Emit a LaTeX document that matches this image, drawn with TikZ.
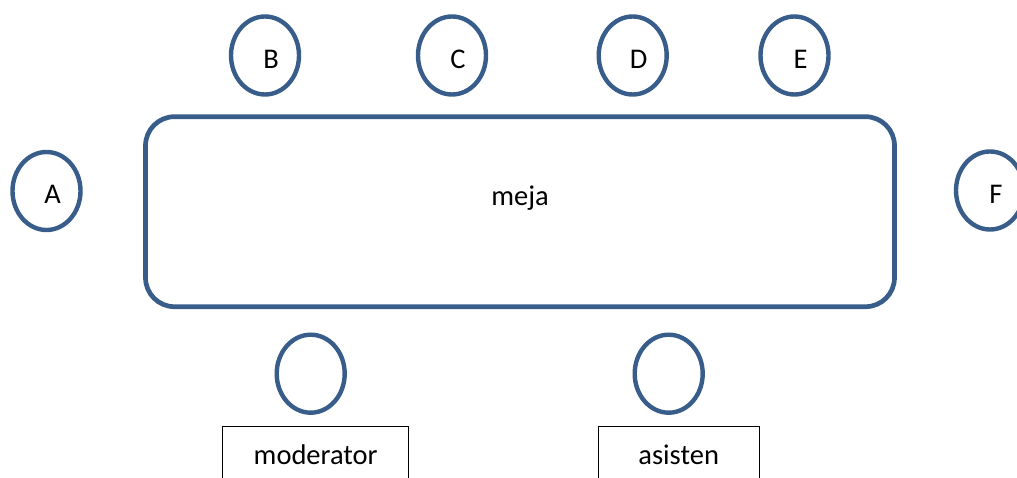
\documentclass[tikz,border=0pt]{standalone}
\usepackage{fontspec}
\setmainfont{Carlito}
\usepackage{tikz}
\usetikzlibrary{shapes.geometric}
\definecolor{seatblue}{RGB}{56,93,138}

\begin{document}
\begin{tikzpicture}[x=1pt, y=-1pt,
  every node/.style={font=\fontsize{28.5}{34}\selectfont},
  seat/.style={ellipse, draw=seatblue, line width=4.4pt, minimum width=68pt, minimum height=78pt, inner sep=0pt},
  seatlabel/.style={xshift=6pt, yshift=-3.5pt, inner sep=0pt},
  mejabox/.style={rectangle, draw=seatblue, line width=4.7pt, rounded corners=29pt, minimum width=749pt, minimum height=190pt},
  desk/.style={rectangle, draw=black, line width=1pt, minimum width=186.5pt, inner ysep=0pt, text height=38pt, text depth=30pt}]
\clip (0,0) rectangle (1017,478);
\node[mejabox] (tbl) at (520,211.7) {};
\node[anchor=base] (meja) at (520,205.7) {meja};
\node[seat, label={[seatlabel]center:A}] (A) at (46.5,191) {};
\foreach \x/\n in {265/B, 452/C, 632.7/D, 794.5/E}
  \node[seat, label={[seatlabel]center:\n}] (\n) at (\x,55.5) {};
\node[seat, label={[seatlabel]center:F}] (F) at (990,190.5) {};
\node[seat] (modseat) at (310.7,373.7) {};
\node[seat] (asseat) at (668.7,373.7) {};
\node[desk, anchor=north] (mod) at (315.7,426) {moderator};
\node[desk, anchor=north, minimum width=160.7pt] (asis) at (678.7,426) {asisten};
\end{tikzpicture}
\end{document}
